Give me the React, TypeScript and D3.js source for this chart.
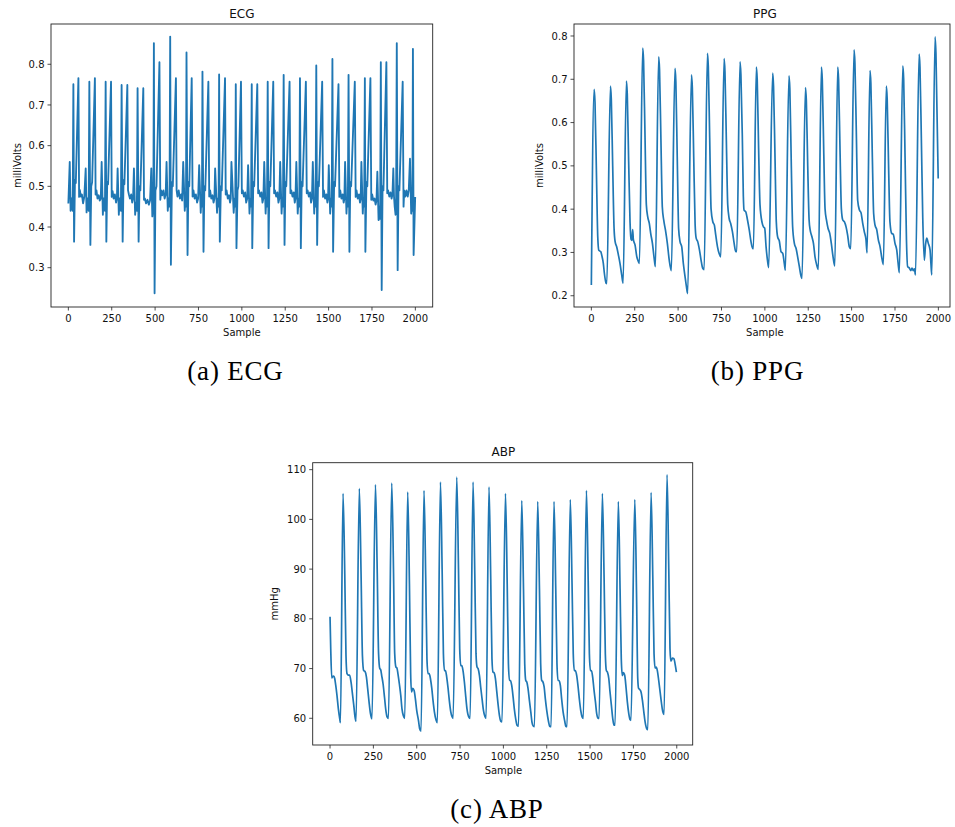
import React from 'react';
import * as d3 from 'd3';

const X_TICKS = [0, 250, 500, 750, 1000, 1250, 1500, 1750, 2000];
const ECG_Y_TICKS = [0.3, 0.4, 0.5, 0.6, 0.7, 0.8];
const PPG_Y_TICKS = [0.2, 0.3, 0.4, 0.5, 0.6, 0.7, 0.8];
const ABP_Y_TICKS = [60, 70, 80, 90, 100, 110];

// ECG samples [sample, milliVolts]
const ECG: [number, number][] = [
  [0,0.458],[8,0.56],[13,0.44],[18,0.47],[25,0.44],[29,0.751],[33,0.364],[38,0.515],[43,0.508],[58,0.766],[62,0.474],[66,0.491],[72,0.475],[78,0.48],[85,0.458],[92,0.475],
  [100,0.544],[105,0.436],[110,0.47],[117,0.44],[121,0.757],[127,0.356],[132,0.5],[137,0.51],[153,0.766],[157,0.48],[162,0.49],[168,0.47],[175,0.478],[181,0.465],[187,0.47],
  [192,0.56],[199,0.43],[204,0.47],[211,0.44],[215,0.757],[219,0.364],[224,0.51],[229,0.505],[246,0.757],[250,0.474],[255,0.488],[261,0.47],[268,0.48],[275,0.46],[280,0.472],
  [284,0.544],[291,0.43],[296,0.47],[303,0.44],[307,0.749],[313,0.364],[318,0.515],[323,0.505],[340,0.749],[344,0.49],[349,0.48],[355,0.47],[362,0.48],[368,0.46],[373,0.47],
  [378,0.544],[385,0.43],[390,0.46],[395,0.44],[399,0.741],[405,0.364],[410,0.5],[415,0.49],[432,0.741],[436,0.467],[441,0.47],[448,0.458],[456,0.467],[464,0.455],[471,0.465],
  [478,0.544],[484,0.426],[488,0.45],[490,0.44],[493,0.852],[497,0.237],[502,0.49],[508,0.5],[525,0.805],[530,0.467],[535,0.49],[541,0.478],[548,0.49],[555,0.47],[561,0.48],
  [566,0.56],[573,0.44],[578,0.47],[583,0.45],[587,0.868],[591,0.307],[597,0.51],[602,0.5],[620,0.766],[624,0.49],[629,0.475],[636,0.49],[643,0.47],[650,0.48],[656,0.465],
  [662,0.56],[671,0.44],[675,0.47],[678,0.45],[681,0.829],[687,0.331],[692,0.51],[697,0.5],[711,0.766],[716,0.475],[721,0.49],[728,0.47],[735,0.48],[742,0.46],[748,0.47],
  [754,0.552],[763,0.435],[767,0.47],[770,0.45],[773,0.782],[779,0.339],[784,0.5],[789,0.49],[807,0.757],[812,0.475],[817,0.49],[824,0.47],[831,0.478],[837,0.46],[842,0.47],
  [846,0.544],[857,0.435],[862,0.47],[866,0.45],[869,0.775],[873,0.364],[879,0.5],[884,0.49],[903,0.766],[907,0.48],[912,0.49],[919,0.47],[926,0.478],[932,0.46],[936,0.47],
  [940,0.56],[953,0.435],[958,0.47],[962,0.45],[965,0.751],[969,0.348],[975,0.49],[980,0.5],[995,0.757],[1000,0.483],[1005,0.49],[1012,0.475],[1019,0.485],[1025,0.46],[1031,0.47],
  [1036,0.552],[1044,0.433],[1049,0.47],[1053,0.45],[1057,0.751],[1060,0.348],[1066,0.51],[1071,0.5],[1089,0.751],[1094,0.483],[1099,0.49],[1106,0.475],[1113,0.485],[1119,0.46],[1124,0.47],
  [1129,0.56],[1137,0.433],[1141,0.47],[1145,0.45],[1149,0.757],[1154,0.348],[1159,0.51],[1164,0.5],[1181,0.757],[1186,0.483],[1191,0.49],[1198,0.475],[1205,0.485],[1211,0.46],[1216,0.47],
  [1221,0.56],[1229,0.433],[1233,0.47],[1237,0.45],[1241,0.774],[1246,0.356],[1251,0.51],[1256,0.5],[1275,0.757],[1280,0.483],[1285,0.49],[1292,0.475],[1299,0.485],[1305,0.46],[1309,0.47],
  [1314,0.56],[1322,0.433],[1327,0.47],[1331,0.45],[1335,0.766],[1340,0.348],[1345,0.51],[1350,0.5],[1369,0.757],[1374,0.483],[1379,0.49],[1386,0.475],[1393,0.485],[1399,0.46],[1404,0.47],
  [1409,0.56],[1417,0.433],[1421,0.47],[1425,0.45],[1429,0.797],[1434,0.356],[1439,0.51],[1444,0.5],[1463,0.757],[1468,0.474],[1473,0.49],[1480,0.47],[1487,0.48],[1493,0.46],[1497,0.47],
  [1501,0.552],[1509,0.433],[1514,0.47],[1518,0.45],[1522,0.813],[1526,0.339],[1532,0.51],[1537,0.5],[1557,0.751],[1562,0.474],[1567,0.49],[1574,0.47],[1581,0.48],[1587,0.46],[1591,0.47],
  [1595,0.56],[1603,0.433],[1607,0.47],[1611,0.45],[1615,0.774],[1620,0.339],[1625,0.51],[1630,0.5],[1651,0.757],[1656,0.474],[1661,0.49],[1668,0.47],[1675,0.48],[1681,0.46],[1685,0.47],
  [1689,0.56],[1697,0.433],[1701,0.47],[1705,0.45],[1709,0.766],[1712,0.339],[1718,0.51],[1723,0.5],[1741,0.766],[1746,0.467],[1751,0.48],[1758,0.465],[1765,0.47],[1771,0.455],[1776,0.465],
  [1781,0.536],[1788,0.417],[1792,0.45],[1797,0.42],[1801,0.805],[1806,0.245],[1811,0.5],[1816,0.49],[1833,0.805],[1838,0.483],[1843,0.49],[1850,0.475],[1857,0.485],[1863,0.47],[1868,0.48],
  [1873,0.544],[1877,0.475],[1881,0.45],[1886,0.43],[1889,0.45],[1893,0.852],[1898,0.294],[1903,0.5],[1908,0.49],[1927,0.757],[1932,0.45],[1936,0.49],[1942,0.475],[1949,0.49],[1956,0.475],[1962,0.49],
  [1969,0.568],[1976,0.433],[1980,0.46],[1983,0.44],[1986,0.838],[1990,0.331],[1999,0.474],
];

// PPG samples [sample, milliVolts]
const PPG: [number, number][] = [
  [0,0.225],[16,0.677],[21,0.647],[29,0.49],[37,0.335],[43,0.305],[54,0.302],[62,0.29],[69,0.275],[75,0.252],[85,0.229],[89,0.228],
  [110,0.684],[115,0.654],[123,0.5],[131,0.355],[137,0.325],[146,0.313],[156,0.294],[165,0.275],[175,0.248],[183,0.229],
  [202,0.696],[207,0.666],[215,0.51],[223,0.37],[229,0.33],[234,0.328],[238,0.353],[242,0.33],[252,0.317],[262,0.29],[271,0.279],[277,0.275],
  [296,0.772],[301,0.742],[309,0.575],[317,0.41],[325,0.382],[334,0.367],[342,0.344],[352,0.321],[361,0.29],[369,0.267],
  [388,0.752],[393,0.722],[401,0.56],[409,0.405],[417,0.375],[427,0.352],[438,0.321],[449,0.282],[461,0.258],
  [482,0.725],[487,0.695],[495,0.52],[503,0.355],[511,0.325],[521,0.313],[530,0.275],[540,0.244],[548,0.221],[555,0.205],
  [577,0.71],[582,0.68],[590,0.52],[598,0.365],[604,0.333],[613,0.325],[623,0.306],[632,0.283],[642,0.263],[650,0.26],
  [669,0.76],[674,0.73],[682,0.565],[690,0.4],[700,0.371],[709,0.363],[717,0.34],[727,0.313],[736,0.298],[746,0.29],
  [765,0.748],[770,0.718],[778,0.56],[786,0.41],[794,0.379],[803,0.367],[813,0.348],[823,0.321],[832,0.302],[838,0.302],
  [857,0.74],[862,0.71],[870,0.57],[876,0.43],[880,0.398],[890,0.394],[900,0.375],[910,0.352],[920,0.325],[930,0.309],[934,0.309],
  [951,0.728],[956,0.698],[964,0.54],[972,0.41],[984,0.369],[992,0.359],[999,0.356],[1007,0.313],[1015,0.282],[1022,0.265],
  [1045,0.714],[1050,0.684],[1058,0.53],[1066,0.37],[1074,0.335],[1083,0.327],[1093,0.302],[1103,0.298],[1112,0.275],[1118,0.259],
  [1139,0.708],[1144,0.678],[1152,0.51],[1160,0.36],[1170,0.321],[1180,0.309],[1189,0.29],[1199,0.267],[1207,0.248],[1214,0.24],
  [1234,0.681],[1239,0.651],[1247,0.5],[1255,0.375],[1261,0.352],[1270,0.338],[1280,0.321],[1289,0.29],[1299,0.271],[1308,0.261],
  [1326,0.728],[1331,0.698],[1339,0.54],[1347,0.4],[1355,0.375],[1364,0.356],[1374,0.344],[1383,0.321],[1393,0.29],[1403,0.269],
  [1420,0.728],[1425,0.698],[1433,0.54],[1441,0.4],[1449,0.375],[1458,0.371],[1468,0.359],[1477,0.34],[1487,0.313],[1495,0.309],
  [1514,0.768],[1519,0.738],[1527,0.58],[1535,0.42],[1545,0.398],[1554,0.392],[1564,0.367],[1573,0.348],[1583,0.329],[1589,0.299],
  [1606,0.72],[1611,0.69],[1619,0.53],[1627,0.39],[1635,0.363],[1645,0.352],[1654,0.329],[1664,0.313],[1673,0.29],[1683,0.272],
  [1700,0.684],[1705,0.654],[1713,0.5],[1721,0.37],[1731,0.344],[1740,0.342],[1750,0.321],[1760,0.306],[1768,0.275],[1775,0.253],
  [1795,0.731],[1800,0.7],[1808,0.52],[1816,0.33],[1823,0.267],[1831,0.265],[1841,0.258],[1848,0.264],[1855,0.258],[1862,0.262],[1868,0.248],
  [1889,0.758],[1894,0.728],[1902,0.56],[1910,0.38],[1919,0.282],[1926,0.318],[1933,0.333],[1942,0.321],[1952,0.306],[1957,0.275],[1962,0.248],
  [1981,0.798],[1986,0.76],[1999,0.471],
];

// ABP samples [sample, mmHg]
const ABP: [number, number][] = [
  [0,80.4],[4,74.0],[10,68.1],[15,68.4],[21,68.5],[27,68.0],[33,66.6],[40,64.6],[48,61.9],[56,59.9],[60,59.1],
  [75,105.2],[85,89],[92,72.7],[98,69.0],[106,68.7],[113,68.7],[121,67.3],[129,65.0],[137,62.6],[144,60.3],[150,59.4],
  [169,106.2],[179,89],[187,72.5],[194,69.6],[202,69.4],[210,68.3],[217,66.0],[225,63.3],[233,61.0],[242,59.9],
  [262,107.0],[272,90],[280,73],[287,70.0],[292,69.8],[298,68.6],[306,66.9],[314,64.3],[321,61.9],[329,60.3],[337,60.0],
  [356,107.3],[366,90],[373,73],[380,70.3],[386,70.1],[392,68.9],[400,66.9],[408,64.6],[415,61.9],[423,60.5],[431,60.0],
  [448,105.5],[458,87],[465,69],[470,65.3],[477,66.0],[485,65.6],[492,64.0],[500,61.6],[510,59.6],[517,57.9],[525,57.4],
  [542,105.8],[552,88],[559,72],[565,69.0],[572,69.0],[579,68.0],[587,66.0],[594,63.6],[602,61.3],[612,59.6],[619,59.1],
  [637,107.5],[647,89],[654,73],[660,69.6],[666,69.6],[673,68.3],[681,66.0],[688,63.6],[696,61.4],[704,60.3],[710,60.0],
  [731,108.5],[741,90],[748,74],[754,70.6],[760,70.6],[767,69.6],[775,67.3],[783,64.3],[790,61.9],[800,60.3],[808,60.0],
  [825,107.5],[835,89],[842,73],[848,70.3],[854,70.0],[862,68.6],[869,66.3],[877,63.9],[885,61.6],[894,60.3],[900,60.0],
  [917,106.5],[927,88],[934,72],[940,69.3],[946,69.2],[954,68.0],[962,65.3],[969,62.9],[977,60.6],[985,59.4],[992,59.3],
  [1012,105.2],[1022,87],[1029,71],[1035,67.6],[1041,67.6],[1048,66.6],[1056,64.3],[1063,61.9],[1071,59.9],[1079,58.6],[1087,58.4],
  [1106,103.8],[1116,86],[1123,71],[1129,67.6],[1135,67.3],[1142,66.0],[1150,63.6],[1158,61.3],[1165,59.2],[1173,58.4],[1179,58.3],
  [1198,103.6],[1208,86],[1215,71],[1221,67.6],[1227,67.4],[1235,66.3],[1242,63.9],[1250,61.6],[1260,59.4],[1267,58.4],[1275,58.3],
  [1292,103.6],[1302,86],[1309,71],[1315,67.6],[1321,67.6],[1329,66.5],[1336,63.9],[1344,61.4],[1354,59.4],[1360,58.4],[1367,58.3],
  [1386,104.0],[1396,87],[1403,73],[1409,69.6],[1415,69.6],[1423,68.6],[1431,66.3],[1438,63.9],[1446,61.6],[1454,60.3],[1461,60.0],
  [1479,105.8],[1489,88],[1496,73],[1502,69.6],[1508,69.6],[1515,68.3],[1523,65.6],[1531,63.3],[1538,61.0],[1546,60.0],[1552,60.0],
  [1571,105.2],[1581,88],[1588,73],[1594,69.6],[1600,69.3],[1608,68.0],[1615,65.3],[1623,62.6],[1631,59.9],[1638,58.6],[1644,58.6],
  [1663,103.6],[1673,86],[1680,72],[1686,68.6],[1692,69.2],[1700,68.6],[1708,66.0],[1715,63.3],[1723,61.0],[1731,59.7],[1736,59.6],
  [1758,104.0],[1768,85],[1775,68],[1780,66.0],[1786,65.8],[1794,65.3],[1802,63.6],[1810,61.3],[1817,59.4],[1827,57.9],[1833,57.7],
  [1852,105.4],[1862,88],[1869,73],[1875,70.1],[1881,70.3],[1888,69.6],[1896,67.6],[1904,65.3],[1911,63.3],[1919,61.4],[1927,60.8],
  [1944,109.0],[1954,90],[1961,74],[1966,71.5],[1971,71.8],[1975,72.1],[1984,72.0],[1990,71.0],[1998,69.3],
];

const TICK_FONT = 'DejaVu Sans, sans-serif';

type Box = { l: number; r: number; t: number; b: number };

function Panel(props: {
  data: [number, number][];
  box: Box;
  xDomain: [number, number];
  yDomain: [number, number];
  yTicks: number[];
  fmt: (v: number) => string;
  title: string;
  ylabel: string;
  ylabelX: number;
  curve: d3.CurveFactory;
  lineWidth: number;
}) {
  const { data, box, xDomain, yDomain, yTicks, fmt, title, ylabel, ylabelX, curve, lineWidth } = props;
  const x = d3.scaleLinear().domain(xDomain).range([box.l, box.r]);
  const y = d3.scaleLinear().domain(yDomain).range([box.b, box.t]);
  const line = d3
    .line<[number, number]>()
    .x((d) => x(d[0]))
    .y((d) => y(d[1]))
    .curve(curve);
  const cy = (box.t + box.b) / 2;
  return (
    <g fontFamily={TICK_FONT} fill="#111">
      <path d={line(data) || ''} fill="none" stroke="#1f77b4" strokeWidth={lineWidth} strokeLinejoin="round" />
      <rect x={box.l} y={box.t} width={box.r - box.l} height={box.b - box.t} fill="none" stroke="#222" strokeWidth={0.9} />
      {X_TICKS.map((t) => (
        <g key={'x' + t}>
          <line x1={x(t)} x2={x(t)} y1={box.b} y2={box.b + 3.5} stroke="#222" strokeWidth={0.8} />
          <text x={x(t)} y={box.b + 15} fontSize={10} textAnchor="middle">{t}</text>
        </g>
      ))}
      {yTicks.map((t) => (
        <g key={'y' + t}>
          <line x1={box.l - 3.5} x2={box.l} y1={y(t)} y2={y(t)} stroke="#222" strokeWidth={0.8} />
          <text x={box.l - 6.5} y={y(t) + 3.6} fontSize={10} textAnchor="end">{fmt(t)}</text>
        </g>
      ))}
      <text x={x(1000)} y={box.t - 6.3} fontSize={12} textAnchor="middle">{title}</text>
      <text x={x(1000)} y={box.b + 29} fontSize={10} textAnchor="middle">Sample</text>
      <text transform={`translate(${ylabelX},${cy}) rotate(-90)`} fontSize={10} textAnchor="middle">{ylabel}</text>
    </g>
  );
}

const CAPTION_FONT = 'Liberation Serif, DejaVu Serif, serif';

export default function App() {
  return (
    <svg
      width={955}
      height={827}
      style={{ position: 'absolute', left: 0, top: 0, background: '#fff' }}
    >
      <rect x={0} y={0} width={955} height={827} fill="#fff" />
      <Panel
        data={ECG}
        box={{ l: 51, r: 432.7, t: 24, b: 307 }}
        xDomain={[-100, 2100]}
        yDomain={[0.2034, 0.899]}
        yTicks={ECG_Y_TICKS}
        fmt={(v) => v.toFixed(1)}
        title="ECG"
        ylabel="milliVolts"
        ylabelX={20.5}
        curve={d3.curveLinear}
        lineWidth={1.85}
      />
      <Panel
        data={PPG}
        box={{ l: 574, r: 950, t: 24, b: 307 }}
        xDomain={[-100, 2067]}
        yDomain={[0.174, 0.8277]}
        yTicks={PPG_Y_TICKS}
        fmt={(v) => v.toFixed(1)}
        title="PPG"
        ylabel="milliVolts"
        ylabelX={543.3}
        curve={d3.curveMonotoneX}
        lineWidth={1.7}
      />
      <Panel
        data={ABP}
        box={{ l: 312.7, r: 692.7, t: 462.7, b: 745 }}
        xDomain={[-100, 2092]}
        yDomain={[54.63, 111.4]}
        yTicks={ABP_Y_TICKS}
        fmt={(v) => String(v)}
        title="ABP"
        ylabel="mmHg"
        ylabelX={278}
        curve={d3.curveMonotoneX}
        lineWidth={1.7}
      />
      <g fontFamily={CAPTION_FONT} fontSize={27} fill="#000" letterSpacing={0.8}>
        <text x={235.5} y={380} textAnchor="middle">(a) ECG</text>
        <text x={757.5} y={380} textAnchor="middle">(b) PPG</text>
        <text x={497} y={817.5} textAnchor="middle">(c) ABP</text>
      </g>
    </svg>
  );
}
